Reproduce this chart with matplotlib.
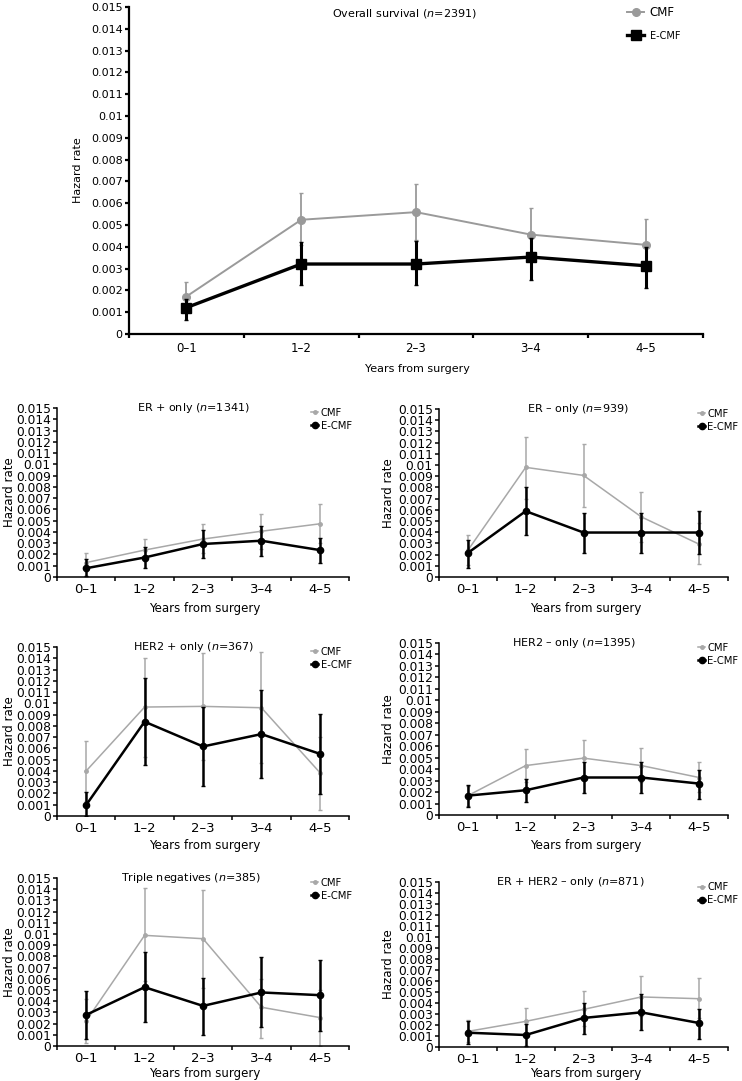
import matplotlib
matplotlib.use('Agg')
import matplotlib.pyplot as plt
from matplotlib.lines import Line2D
import numpy as np

plt.rcParams['font.family'] = ['DejaVu Sans']

periods = ['0–1', '1–2', '2–3', '3–4', '4–5']

# Overall survival (n=2391)
os_cmf = [0.00172, 0.00524, 0.00559, 0.00456, 0.00409]
os_cmf_lo = [0.0011, 0.0041, 0.0043, 0.0035, 0.0029]
os_cmf_hi = [0.00237, 0.00646, 0.0069, 0.0058, 0.00528]
os_ecmf = [0.00121, 0.00321, 0.00321, 0.00353, 0.00313]
os_ecmf_lo = [0.00063, 0.00226, 0.00223, 0.00249, 0.00211]
os_ecmf_hi = [0.00160, 0.0042, 0.00426, 0.0044, 0.0040]

# ER + only (n=1341)
erp_cmf = [0.00128, 0.00239, 0.00337, 0.00406, 0.00472]
erp_cmf_lo = [0.0005, 0.0014, 0.0021, 0.0025, 0.0030]
erp_cmf_hi = [0.0021, 0.00337, 0.00466, 0.0056, 0.00645]
erp_ecmf = [0.00078, 0.00173, 0.00293, 0.00322, 0.00239]
erp_ecmf_lo = [0.0001, 0.00078, 0.00173, 0.00188, 0.00128]
erp_ecmf_hi = [0.0016, 0.0027, 0.0042, 0.00457, 0.0035]

# ER - only (n=939)
ern_cmf = [0.00239, 0.00979, 0.00907, 0.00537, 0.00293]
ern_cmf_lo = [0.0011, 0.0070, 0.00627, 0.0031, 0.0012]
ern_cmf_hi = [0.00373, 0.01254, 0.01188, 0.00761, 0.0048]
ern_ecmf = [0.00215, 0.00588, 0.00397, 0.00397, 0.00397]
ern_ecmf_lo = [0.00084, 0.00379, 0.00218, 0.00215, 0.00203]
ern_ecmf_hi = [0.00328, 0.0080, 0.00573, 0.00573, 0.00591]

# HER2 + only (n=367)
hp_cmf = [0.0040, 0.00967, 0.00973, 0.00961, 0.00386]
hp_cmf_lo = [0.0013, 0.0052, 0.0050, 0.0047, 0.00053]
hp_cmf_hi = [0.0067, 0.01403, 0.01448, 0.0146, 0.0070]
hp_ecmf = [0.00098, 0.00837, 0.00617, 0.00727, 0.00552]
hp_ecmf_lo = [0.0, 0.00454, 0.0027, 0.00335, 0.00196]
hp_ecmf_hi = [0.00217, 0.01225, 0.00967, 0.0112, 0.00908]

# HER2 - only (n=1395)
hn_cmf = [0.00169, 0.00431, 0.00496, 0.00431, 0.00327]
hn_cmf_lo = [0.0008, 0.0029, 0.0034, 0.0029, 0.0020]
hn_cmf_hi = [0.0025, 0.00574, 0.00656, 0.0058, 0.0046]
hn_ecmf = [0.00169, 0.00216, 0.00327, 0.00327, 0.00274]
hn_ecmf_lo = [0.00067, 0.00114, 0.00195, 0.00195, 0.00143]
hn_ecmf_hi = [0.00262, 0.00315, 0.00458, 0.00458, 0.00394]

# Triple negatives (n=385)
tn_cmf = [0.00225, 0.00988, 0.00958, 0.00346, 0.00254]
tn_cmf_lo = [0.0003, 0.0058, 0.0052, 0.00069, 0.0]
tn_cmf_hi = [0.0042, 0.01412, 0.01397, 0.0060, 0.0050]
tn_ecmf = [0.00278, 0.00525, 0.00358, 0.00478, 0.00454]
tn_ecmf_lo = [0.0006, 0.00218, 0.0010, 0.00167, 0.00137]
tn_ecmf_hi = [0.00493, 0.00836, 0.0061, 0.00794, 0.0077]

# ER + HER2 - only (n=871)
eh_cmf = [0.00142, 0.00233, 0.00342, 0.00455, 0.00439]
eh_cmf_lo = [0.0005, 0.0010, 0.0019, 0.0028, 0.0026]
eh_cmf_hi = [0.00248, 0.00358, 0.00506, 0.00642, 0.0063]
eh_ecmf = [0.0013, 0.00109, 0.00264, 0.00315, 0.00218]
eh_ecmf_lo = [0.0003, 0.00006, 0.00121, 0.00152, 0.00076]
eh_ecmf_hi = [0.00236, 0.00212, 0.0040, 0.00485, 0.00348]

W, H = 742, 1081
fig = plt.figure(figsize=(W / 100, H / 100), dpi=100)

GRAY = '#a8a8a8'
GRAY_TOP = '#9a9a9a'


def add_ax(l, t, r, b):
    return fig.add_axes([l / W, 1 - b / H, (r - l) / W, (b - t) / H])


def style_axis(ax, ytick_fs, xtick_fs, xpad, spine_w):
    ax.set_xlim(0, 5)
    ax.set_ylim(0, 0.015)
    for s in ('top', 'right'):
        ax.spines[s].set_visible(False)
    for s in ('left', 'bottom'):
        ax.spines[s].set_linewidth(spine_w)
    yt = np.linspace(0, 0.015, 16)
    ax.set_yticks(yt)
    ax.set_yticklabels([f'{round(v, 3):g}' for v in yt])
    ax.set_xticks(np.arange(5) + 0.5)
    ax.set_xticklabels(periods)
    ax.set_xticks(np.arange(6), minor=True)
    ax.tick_params(axis='x', which='major', length=0, pad=xpad, labelsize=xtick_fs)
    ax.tick_params(axis='x', which='minor', length=3, width=spine_w)
    ax.tick_params(axis='y', length=3, width=spine_w, pad=1.5, labelsize=ytick_fs)


def err(vals, lo, hi):
    v = np.array(vals)
    return [np.clip(v - np.array(lo), 0, None), np.clip(np.array(hi) - v, 0, None)]


x = np.arange(5) + 0.5

# ---------- Top panel ----------
ax = add_ax(129, 7, 703, 334)
style_axis(ax, 8, 8.5, 6, 1.6)
ax.errorbar(x, os_cmf, yerr=err(os_cmf, os_cmf_lo, os_cmf_hi), color=GRAY_TOP,
            ecolor=GRAY_TOP, lw=1.4, elinewidth=1.3, capsize=1.5, marker='o', ms=5.5,
            zorder=2)
ax.errorbar(x, os_ecmf, yerr=err(os_ecmf, os_ecmf_lo, os_ecmf_hi), color='black',
            ecolor='black', lw=2.4, elinewidth=2.2, capsize=1.5, marker='s', ms=6.5,
            zorder=3)
ax.text(0.48, 0.979, 'Overall survival ($\\it{n}$=2391)', transform=ax.transAxes,
        ha='center', va='center', fontsize=8)
ax.set_ylabel('Hazard rate', fontsize=8)
ax.yaxis.set_label_coords(-0.08, 0.5)
ax.set_xlabel('Years from surgery', fontsize=8)
ax.xaxis.set_label_coords(0.503, -0.092)
h1 = Line2D([], [], color=GRAY_TOP, lw=1.4, marker='o', ms=5.5)
h2 = Line2D([], [], color='black', lw=2.4, marker='s', ms=6.5)
leg = ax.legend([h1, h2], ['CMF', 'E-CMF'], loc='upper left',
                bbox_to_anchor=(0.858, 1.02), frameon=False, handlelength=1.4,
                handletextpad=0.5, labelspacing=1.0, borderpad=0, fontsize=8.5)
leg.get_texts()[1].set_fontsize(7)

# ---------- Small panels ----------
panels = [
    ((57, 408, 349, 577), 'ER + only ($\\it{n}$=1341)', 0.466,
     erp_cmf, erp_cmf_lo, erp_cmf_hi, erp_ecmf, erp_ecmf_lo, erp_ecmf_hi, 25),
    ((439, 409, 728, 577), 'ER – only ($\\it{n}$=939)', 0.48,
     ern_cmf, ern_cmf_lo, ern_cmf_hi, ern_ecmf, ern_ecmf_lo, ern_ecmf_hi, 25),
    ((57, 647, 349, 816), 'HER2 + only ($\\it{n}$=367)', 0.466,
     hp_cmf, hp_cmf_lo, hp_cmf_hi, hp_ecmf, hp_ecmf_lo, hp_ecmf_hi, 23),
    ((439, 643, 728, 815), 'HER2 – only ($\\it{n}$=1395)', 0.467,
     hn_cmf, hn_cmf_lo, hn_cmf_hi, hn_ecmf, hn_ecmf_lo, hn_ecmf_hi, 24),
    ((57, 878, 349, 1046), 'Triple negatives ($\\it{n}$=385)', 0.459,
     tn_cmf, tn_cmf_lo, tn_cmf_hi, tn_ecmf, tn_ecmf_lo, tn_ecmf_hi, 21),
    ((439, 882, 728, 1047), 'ER + HER2 – only ($\\it{n}$=871)', 0.453,
     eh_cmf, eh_cmf_lo, eh_cmf_hi, eh_ecmf, eh_ecmf_lo, eh_ecmf_hi, 20),
]

for (rect, title, tx, c, clo, chi, e, elo, ehi, xl_off) in panels:
    l, t, r, b = rect
    left_col = l < 100
    ax = add_ax(l, t, r, b)
    style_axis(ax, 8.8, 9.5, 4, 1.1)
    ax.errorbar(x, c, yerr=err(c, clo, chi), color=GRAY, ecolor=GRAY, lw=1.1,
                elinewidth=1.1, capsize=1.2, marker='o', ms=2.5, zorder=2)
    ax.errorbar(x, e, yerr=err(e, elo, ehi), color='black', ecolor='black', lw=1.8,
                elinewidth=1.8, capsize=1.2, marker='o', ms=4.5, zorder=3)
    ax.text(tx, 1.0, title, transform=ax.transAxes, ha='center', va='center',
            fontsize=8)
    ax.set_ylabel('Hazard rate', fontsize=8.5)
    ylab_x = 16 if left_col else 395
    ax.yaxis.set_label_coords((ylab_x - l) / (r - l), 0.5)
    ax.set_xlabel('Years from surgery', fontsize=8.5)
    ax.xaxis.set_label_coords(0.507, -xl_off / (b - t))
    hc = Line2D([], [], color=GRAY, lw=1.1, marker='o', ms=2.5)
    he = Line2D([], [], color='black', lw=1.8, marker='o', ms=4.5)
    leg_x = 306 if left_col else 693
    ax.legend([hc, he], ['CMF', 'E-CMF'], loc='upper left',
              bbox_to_anchor=((leg_x - l) / (r - l), 1.03),
              frameon=False, handlelength=0.7, handletextpad=0.25,
              labelspacing=0.3, borderpad=0, fontsize=7.2)

fig.savefig('out.png', dpi=100)
